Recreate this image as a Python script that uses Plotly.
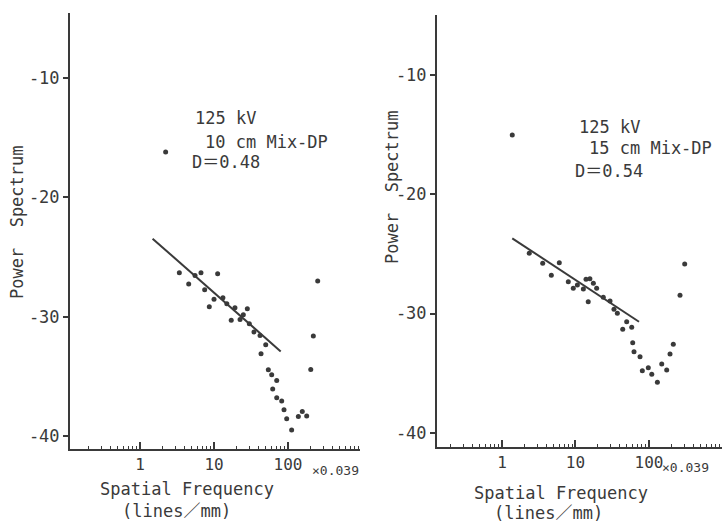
import plotly.graph_objects as go

# ---------------- data ----------------
# Left panel: 125 kV, 10 cm Mix-DP, D=0.48
left_freq = [2.22, 3.40, 4.55, 5.54, 6.67, 7.48, 11.2, 8.64, 10.0, 13.2, 14.9, 17.1,
             19.2, 22.5, 24.9, 28.2, 30.0, 34.7, 41.9, 43.2, 50.0, 54.2, 60.2, 70.4,
             62.1, 70.4, 82.2, 88.3, 96.0, 112, 138, 156, 179, 203, 220, 252]
left_power = [-16.2, -26.31, -27.26, -26.54, -26.31, -27.74, -26.40, -29.16, -28.55,
              -28.41, -28.91, -30.31, -29.25, -30.23, -29.83, -29.33, -30.59, -31.28,
              -31.57, -33.10, -32.35, -34.44, -34.86, -35.34, -36.06, -36.79, -37.07,
              -37.80, -38.55, -39.50, -38.36, -37.94, -38.32, -34.42, -31.62, -27.0]
left_fit_freq = [1.48, 79.7]
left_fit_power = [-23.46, -32.91]

# Right panel: 125 kV, 15 cm Mix-DP, D=0.54
right_freq = [1.38, 2.35, 3.58, 4.69, 6.02, 7.98, 9.33, 10.6, 12.8, 13.9, 15.7, 17.5,
              19.4, 14.9, 23.9, 29.5, 33.4, 37.1, 49.7, 43.9, 58.2, 60.0, 62.5, 75.5,
              81.1, 97.8, 109, 130, 149, 174, 193, 214, 264, 306]
right_power = [-15.04, -24.95, -25.79, -26.80, -25.74, -27.33, -27.89, -27.61, -27.95,
               -27.13, -27.08, -27.47, -27.89, -29.01, -28.64, -28.95, -29.65, -29.98,
               -30.69, -31.32, -31.16, -32.45, -33.20, -33.62, -34.79, -34.54, -35.10,
               -35.77, -34.23, -34.74, -33.39, -32.58, -28.47, -25.85]
right_fit_freq = [1.38, 73.1]
right_fit_power = [-23.70, -30.69]

y_tick_vals = [-10, -20, -30, -40]
y_tick_text = ["-10", "-20", "-30", "-40"]

left_label = ["125 kV", "10 cm Mix-DP", "D\uff1d0.48"]
right_label = ["125 kV", "15 cm Mix-DP", "D\uff1d0.54"]
x_title = "Spatial Frequency"
x_unit = "(lines\uff0fmm)"
x_scale = "\u00d70.039"
y_title = "Power  Spectrum"

# ---------------- styling ----------------
W, H = 722, 526
INK = "#3a3a3a"
FONT = "DejaVu Sans Mono, Noto Sans CJK JP, monospace"


def px(x):
    return x / W


def py(y):
    return 1 - y / H


fig = go.Figure()

fig.add_trace(go.Scatter(x=left_freq, y=left_power, mode="markers",
                         marker=dict(size=5, color=INK), xaxis="x", yaxis="y",
                         showlegend=False))
fig.add_trace(go.Scatter(x=left_fit_freq, y=left_fit_power, mode="lines",
                         line=dict(color=INK, width=2), xaxis="x", yaxis="y",
                         showlegend=False))
fig.add_trace(go.Scatter(x=right_freq, y=right_power, mode="markers",
                         marker=dict(size=5, color=INK), xaxis="x2", yaxis="y2",
                         showlegend=False))
fig.add_trace(go.Scatter(x=right_fit_freq, y=right_fit_power, mode="lines",
                         line=dict(color=INK, width=2), xaxis="x2", yaxis="y2",
                         showlegend=False))

xcommon = dict(type="log", showline=True, linecolor=INK, linewidth=2,
               showgrid=False, zeroline=False, tickmode="linear", tick0=0, dtick=1,
               ticks="inside", ticklen=7, tickwidth=1.5, tickcolor=INK,
               minor=dict(ticks="inside", ticklen=3, tickwidth=1, tickcolor=INK,
                          dtick="D1", showgrid=False),
               tickfont=dict(family=FONT, size=16, color=INK), fixedrange=True)
ycommon = dict(showline=True, linecolor=INK, linewidth=2, showgrid=False,
               zeroline=False, tickmode="array", tickvals=y_tick_vals,
               ticktext=y_tick_text, ticks="outside", ticklen=5, tickwidth=1.5,
               tickcolor=INK, tickfont=dict(family=FONT, size=17, color=INK),
               fixedrange=True)

fig.update_layout(
    width=W, height=H,
    margin=dict(l=0, r=0, t=0, b=0),
    paper_bgcolor="white", plot_bgcolor="white",
    xaxis=dict(xcommon, domain=[px(70), px(360)], range=[-0.946, 2.973],
               anchor="y"),
    yaxis=dict(ycommon, domain=[py(449), py(13)], range=[-41.09, -4.55],
               anchor="x"),
    xaxis2=dict(xcommon, domain=[px(437), px(722)], range=[-0.884, 2.993],
                anchor="y2"),
    yaxis2=dict(ycommon, domain=[py(447), py(15)], range=[-41.19, -4.98],
                anchor="x2"),
)

ann = []


def text(x, y, s, size=17, xanchor="left", angle=0):
    ann.append(dict(x=px(x), y=py(y), xref="paper", yref="paper", text=s,
                    showarrow=False, xanchor=xanchor, yanchor="middle",
                    textangle=angle,
                    font=dict(family=FONT, size=size, color=INK)))


# left panel labels
text(193, 118, left_label[0])
text(203, 142, left_label[1])
text(190, 162, left_label[2])
text(187, 489, x_title, xanchor="center")
text(176, 511, x_unit, xanchor="center")
text(310, 470, x_scale, size=13)
text(17, 222, y_title, xanchor="center", angle=-90)

# right panel labels
text(577, 127, right_label[0])
text(587, 148, right_label[1])
text(573, 171, right_label[2])
text(561, 493, x_title, xanchor="center")
text(548, 513, x_unit, xanchor="center")
text(660, 468, x_scale, size=13)
text(392, 187, y_title, xanchor="center", angle=-90)

fig.update_layout(annotations=ann)

fig.write_html("out.html")
